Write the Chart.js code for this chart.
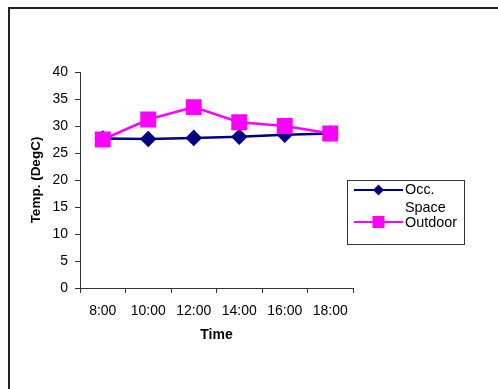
<!DOCTYPE html>
<html>
<head>
<meta charset="utf-8">
<script src="https://cdn.jsdelivr.net/npm/chart.js@4"></script>
<style>
  html, body { margin: 0; padding: 0; background: #fff; }
  #wrap { width: 498px; height: 389px; position: relative; }
</style>
</head>
<body>
<div id="wrap"><canvas id="chart"></canvas></div>
<script>
// Data
const times = ['8:00', '10:00', '12:00', '14:00', '16:00', '18:00'];
const occSpace = [27.7, 27.6, 27.8, 28.0, 28.4, 28.6];
const outdoor = [27.5, 31.2, 33.5, 30.7, 30.0, 28.6];
const seriesNames = ['Occ. Space', 'Outdoor'];
const yTicks = [0, 5, 10, 15, 20, 25, 30, 35, 40];

const FONT = "'Liberation Sans', Arial, sans-serif";
const NAVY = '#000080';
const MAGENTA = '#FF00FF';

// Frame around the whole picture (only left and top edges visible)
const framePlugin = {
  id: 'frame',
  beforeDraw(chart) {
    const ctx = chart.ctx;
    ctx.save();
    ctx.fillStyle = '#fff';
    ctx.fillRect(0, 0, chart.width, chart.height);
    ctx.strokeStyle = '#222';
    ctx.lineWidth = 2;
    ctx.beginPath();
    ctx.moveTo(9, chart.height + 2);
    ctx.lineTo(9, 8);
    ctx.lineTo(chart.width + 2, 8);
    ctx.stroke();
    ctx.restore();
  }
};

// Boxed legend to the right of the plot, with word-wrapped labels
const boxLegend = {
  id: 'boxLegend',
  afterDraw(chart) {
    const ctx = chart.ctx;
    const box = { x: 347, y: 180, w: 117, h: 64 };
    ctx.save();
    ctx.strokeStyle = '#333';
    ctx.lineWidth = 1;
    ctx.strokeRect(box.x + 0.5, box.y + 0.5, box.w, box.h);
    ctx.font = '14.4px ' + FONT;
    ctx.textBaseline = 'middle';
    ctx.fillStyle = '#000';
    const maxW = 56;
    let y = 190.5;
    chart.data.datasets.forEach((ds) => {
      // wrap label
      const words = ds.label.split(' ');
      const lines = [];
      let cur = '';
      words.forEach((w) => {
        const test = cur ? cur + ' ' + w : w;
        if (cur && ctx.measureText(test).width > maxW) { lines.push(cur); cur = w; }
        else cur = test;
      });
      if (cur) lines.push(cur);

      const ly = Math.round(y) - 1;
      ctx.strokeStyle = ds.borderColor;
      ctx.lineWidth = 2;
      ctx.beginPath();
      ctx.moveTo(354, ly);
      ctx.lineTo(403, ly);
      ctx.stroke();
      ctx.fillStyle = ds.borderColor;
      if (ds.pointStyle === 'rectRot') {
        ctx.beginPath();
        ctx.moveTo(378.5 - 5.5, ly);
        ctx.lineTo(378.5, ly - 5.5);
        ctx.lineTo(378.5 + 5.5, ly);
        ctx.lineTo(378.5, ly + 5.5);
        ctx.closePath();
        ctx.fill();
      } else {
        ctx.fillRect(378.5 - 6, ly - 6, 12, 12);
      }
      ctx.fillStyle = '#000';
      lines.forEach((t, i) => {
        ctx.fillText(t, 405, y + i * 17.5);
      });
      y += (lines.length - 1) * 17.5 + 15;
    });
    ctx.restore();
  }
};

new Chart(document.getElementById('chart'), {
  type: 'line',
  data: {
    labels: times,
    datasets: [
      {
        label: seriesNames[0],
        data: occSpace,
        borderColor: NAVY,
        backgroundColor: NAVY,
        borderWidth: 2.5,
        pointStyle: 'rectRot',
        pointRadius: 6.5,
        pointHoverRadius: 6.5,
        tension: 0,
        order: 1
      },
      {
        label: seriesNames[1],
        data: outdoor,
        borderColor: MAGENTA,
        backgroundColor: MAGENTA,
        borderWidth: 2.5,
        pointStyle: 'rect',
        pointRadius: 9.5,
        pointHoverRadius: 9.5,
        tension: 0,
        order: 0
      }
    ]
  },
  options: {
    responsive: true,
    maintainAspectRatio: false,
    animation: false,
    devicePixelRatio: 1,
    layout: { padding: { left: 0, top: 72, right: 145, bottom: 0 } },
    plugins: {
      legend: { display: false },
      tooltip: { enabled: false }
    },
    scales: {
      x: {
        type: 'category',
        offset: true,
        afterFit: (s) => { s.height = 101; },
        grid: {
          offset: true,
          drawOnChartArea: false,
          drawTicks: true,
          tickLength: 5,
          color: '#333'
        },
        border: { color: '#333', width: 1 },
        ticks: {
          color: '#000',
          font: { family: FONT, size: 14 },
          padding: 10,
          maxRotation: 0,
          autoSkip: false
        },
        title: {
          display: true,
          text: 'Time',
          color: '#000',
          font: { family: FONT, size: 14, weight: 'bold' },
          padding: { top: 0, bottom: 45 }
        }
      },
      y: {
        min: 0,
        max: 40,
        afterFit: (s) => { s.width = 80; },
        afterBuildTicks: (s) => { s.ticks = yTicks.map((v) => ({ value: v })); },
        grid: {
          drawOnChartArea: false,
          drawTicks: true,
          tickLength: 5,
          color: '#333'
        },
        border: { color: '#333', width: 1 },
        ticks: {
          color: '#000',
          font: { family: FONT, size: 14 },
          padding: 7
        },
        title: {
          display: true,
          text: 'Temp. (DegC)',
          color: '#000',
          font: { family: FONT, size: 13.5, weight: 'bold' },
          padding: { top: 28.5, bottom: 0 }
        }
      }
    }
  },
  plugins: [framePlugin, boxLegend]
});
</script>
</body>
</html>
